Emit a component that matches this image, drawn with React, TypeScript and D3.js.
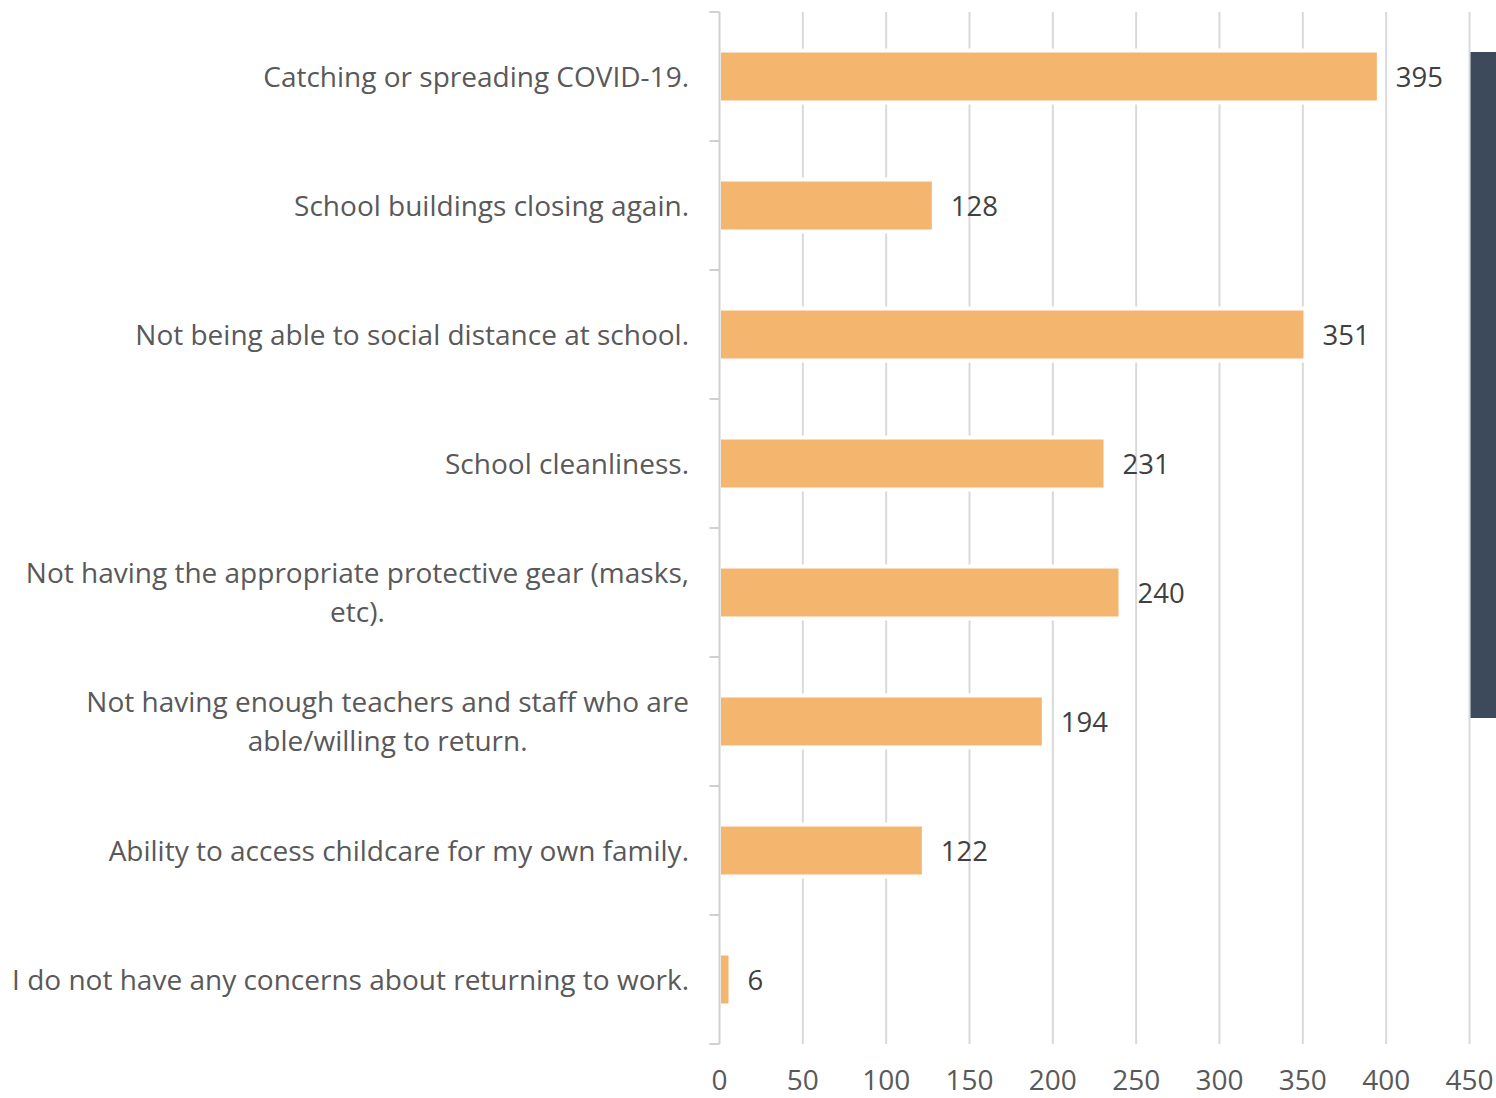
import { useEffect, useRef } from "react";
import * as d3 from "d3";

const categories = [
  "Catching or spreading COVID-19.",
  "School buildings closing again.",
  "Not being able to social distance at school.",
  "School cleanliness.",
  "Not having the appropriate protective gear (masks, etc).",
  "Not having enough teachers and staff who are able/willing to return.",
  "Ability to access childcare for my own family.",
  "I do not have any concerns about returning to work.",
];

const labelLines = [
  ["Catching or spreading COVID-19."],
  ["School buildings closing again."],
  ["Not being able to social distance at school."],
  ["School cleanliness."],
  ["Not having the appropriate protective gear (masks,", "etc)."],
  ["Not having enough teachers and staff who are", "able/willing to return."],
  ["Ability to access childcare for my own family."],
  ["I do not have any concerns about returning to work."],
];

const values = [395, 128, 351, 231, 240, 194, 122, 6];

const xTicks = [0, 50, 100, 150, 200, 250, 300, 350, 400, 450];

const FONT = "'Open Sans', 'Noto Sans', sans-serif";

export default function App() {
  const svgRef = useRef<SVGSVGElement>(null);

  useEffect(() => {
    if (!svgRef.current) return;
    const width = 1496;
    const height = 1098;
    const svg = d3.select(svgRef.current);
    svg.selectAll("*").remove();
    svg.attr("viewBox", `0 0 ${width} ${height}`);

    const top = 12;
    const bottom = 1044;
    const x = d3.scaleLinear().domain([0, 450]).range([719.5, 1469.5]);
    const y = d3
      .scaleBand<string>()
      .domain(categories)
      .range([top, bottom])
      .paddingInner(0.628)
      .paddingOuter(0.314);
    const step = y.step();

    // gridlines
    svg
      .append("g")
      .selectAll("line")
      .data(xTicks.slice(1))
      .join("line")
      .attr("x1", (d) => x(d))
      .attr("x2", (d) => x(d))
      .attr("y1", top)
      .attr("y2", bottom)
      .attr("stroke", "#d9d9d9")
      .attr("stroke-width", 2);

    // stray dark panel at right edge
    svg
      .append("rect")
      .attr("x", x(450) + 1)
      .attr("y", 52)
      .attr("width", width - x(450))
      .attr("height", 666)
      .attr("fill", "#3c4a5c");

    // bars
    svg
      .append("g")
      .selectAll("rect")
      .data(values)
      .join("rect")
      .attr("x", x(0) + 1.5)
      .attr("y", (_, i) => y(categories[i])!)
      .attr("width", (d) => x(d) - x(0) - 2.5)
      .attr("height", y.bandwidth())
      .attr("fill", "#f4b56f")
      .attr("stroke", "#ffffff")
      .attr("stroke-width", 8)
      .style("paint-order", "stroke");

    // axis line and category ticks
    const axis = svg.append("g").attr("stroke", "#d0d0d0").attr("stroke-width", 2);
    axis
      .append("line")
      .attr("x1", x(0))
      .attr("x2", x(0))
      .attr("y1", top)
      .attr("y2", bottom);
    axis
      .selectAll("line.tick")
      .data(d3.range(categories.length + 1))
      .join("line")
      .attr("class", "tick")
      .attr("x1", x(0) - 10)
      .attr("x2", x(0))
      .attr("y1", (i) => top + i * step)
      .attr("y2", (i) => top + i * step);

    // value labels
    svg
      .append("g")
      .selectAll("text")
      .data(values)
      .join("text")
      .attr("x", (d) => x(d) + 18)
      .attr("y", (_, i) => y(categories[i])! + y.bandwidth() / 2 + 10.5)
      .attr("font-family", FONT)
      .attr("font-size", 27.5)
      .attr("fill", "#404040")
      .text((d) => d);

    // x tick labels
    svg
      .append("g")
      .selectAll("text")
      .data(xTicks)
      .join("text")
      .attr("x", (d) => x(d))
      .attr("y", 1090)
      .attr("text-anchor", "middle")
      .attr("font-family", FONT)
      .attr("font-size", 28)
      .attr("fill", "#595959")
      .text((d) => d);

    // category labels (wrapped ones are centred on the widest line)
    const labelRight = 689;
    const lineGap = 39;
    labelLines.forEach((lines, i) => {
      const cy = y(categories[i])! + y.bandwidth() / 2;
      const g = svg.append("g");
      const texts = lines.map((line, j) =>
        g
          .append("text")
          .attr("y", cy + 10 + (j - (lines.length - 1) / 2) * lineGap)
          .attr("font-family", FONT)
          .attr("font-size", 28)
          .attr("fill", "#595959")
          .text(line),
      );
      if (lines.length === 1) {
        texts[0].attr("x", labelRight).attr("text-anchor", "end");
      } else {
        const widths = texts.map((t) => (t.node() as SVGTextElement).getComputedTextLength());
        const cx = labelRight - d3.max(widths)! / 2;
        texts.forEach((t) => t.attr("x", cx).attr("text-anchor", "middle"));
      }
    });
  }, []);

  return (
    <svg
      ref={svgRef}
      width={1496}
      height={1098}
      style={{ position: "absolute", left: 0, top: 0, background: "#fff" }}
    />
  );
}
